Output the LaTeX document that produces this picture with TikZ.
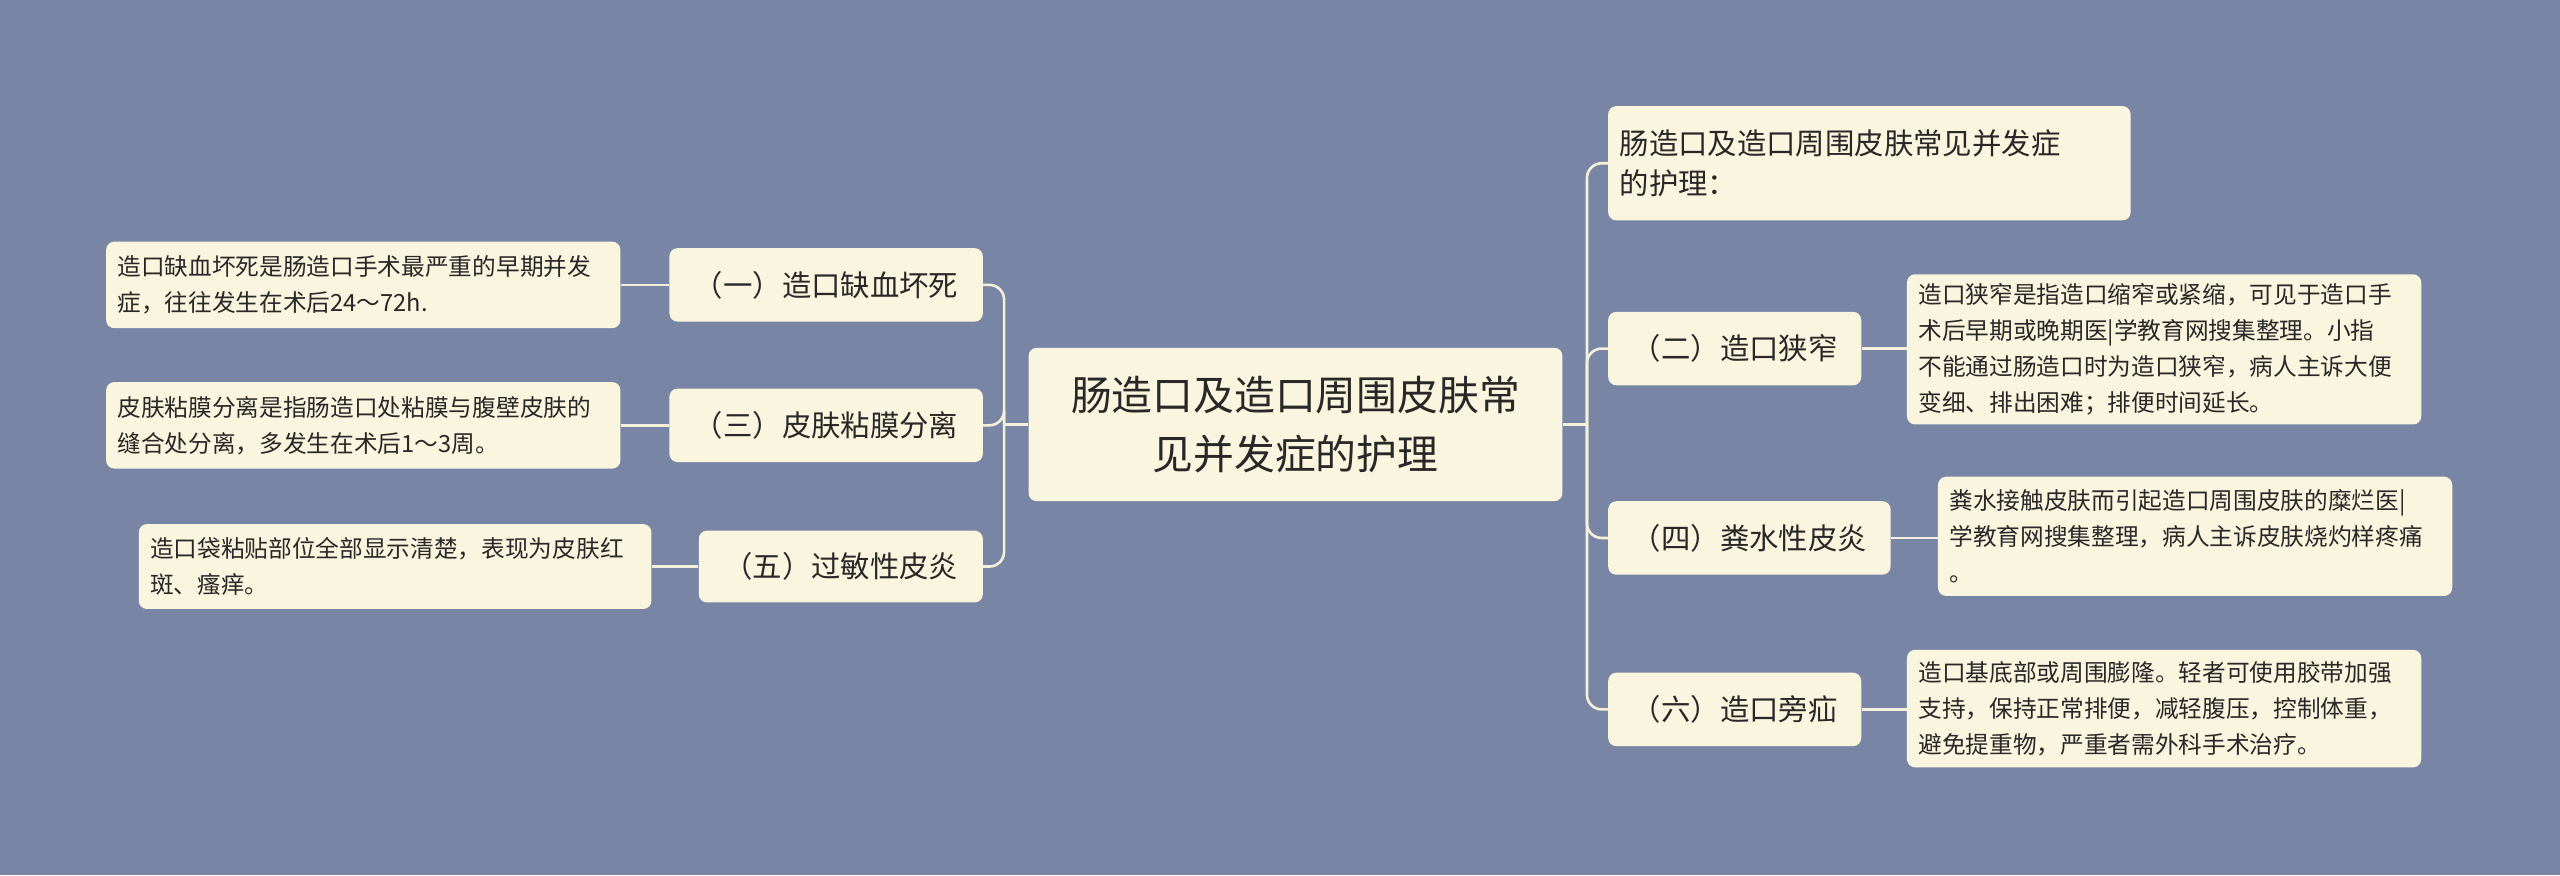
\documentclass[tikz,border=0pt]{standalone}
\usepackage{fontspec}
\setmainfont{Noto Sans CJK SC}
\begin{document}
\begin{tikzpicture}[x=1pt,y=-1pt,
  box/.style={draw=none,fill=boxc,rounded corners=5pt,inner sep=0pt,text=txt},
  leaf/.style={box,font=\fontsize{14.5}{22}\selectfont,align=left},
  mainn/.style={box,font=\fontsize{18}{24}\selectfont},
  conn/.style={draw=linec,line width=1.6pt,rounded corners=9pt}]
\definecolor{bg}{RGB}{120,133,165}
\definecolor{boxc}{RGB}{250,245,222}
\definecolor{linec}{RGB}{245,240,220}
\definecolor{txt}{RGB}{40,40,40}
\fill[bg] (0,0) rectangle (1568,536);
\useasboundingbox (0,0) rectangle (1568,536);
% center
\node[box,minimum width=327pt,minimum height=94pt,font=\fontsize{25}{36}\selectfont,align=center] (c) at (793.5,260) {肠造口及造口周围皮肤常\\见并发症的护理};
% left main
\node[mainn,minimum width=192pt,minimum height=45pt] (n1) at (506,174.5) {（一）造口缺血坏死};
\node[mainn,minimum width=192pt,minimum height=45pt] (n3) at (506,260.5) {（三）皮肤粘膜分离};
\node[mainn,minimum width=174pt,minimum height=44pt] (n5) at (515,347) {（五）过敏性皮炎};
% left leaves
\node[leaf,minimum width=315pt,minimum height=53pt,text width=301pt] (l1) at (222.5,174.5) {造口缺血坏死是肠造口手术最严重的早期并发\\症，往往发生在术后24～72h.};
\node[leaf,minimum width=315pt,minimum height=53pt,text width=301pt] (l3) at (222.5,260.5) {皮肤粘膜分离是指肠造口处粘膜与腹壁皮肤的\\缝合处分离，多发生在术后1～3周。};
\node[leaf,minimum width=314pt,minimum height=52pt,text width=300pt] (l5) at (242,347) {造口袋粘贴部位全部显示清楚，表现为皮肤红\\斑、瘙痒。};
% right main
\node[mainn,minimum width=320pt,minimum height=70pt,text width=306pt,align=left] (t) at (1145,100) {肠造口及造口周围皮肤常见并发症\\的护理：};
\node[mainn,minimum width=155pt,minimum height=45pt] (n2) at (1062.5,213.5) {（二）造口狭窄};
\node[mainn,minimum width=173pt,minimum height=45pt] (n4) at (1071.5,329.5) {（四）粪水性皮炎};
\node[mainn,minimum width=155pt,minimum height=45pt] (n6) at (1062.5,434.5) {（六）造口旁疝};
% right leaves
\node[leaf,minimum width=315pt,minimum height=92pt,text width=301pt] (r2) at (1325.5,214) {造口狭窄是指造口缩窄或紧缩，可见于造口手\\术后早期或晚期医|学教育网搜集整理。小指\\不能通过肠造口时为造口狭窄，病人主诉大便\\变细、排出困难；排便时间延长。};
\node[leaf,minimum width=315pt,minimum height=73pt,text width=301pt] (r4) at (1344.5,328.5) {粪水接触皮肤而引起造口周围皮肤的糜烂医|\\学教育网搜集整理，病人主诉皮肤烧灼样疼痛\\。};
\node[leaf,minimum width=315pt,minimum height=72pt,text width=301pt] (r6) at (1325.5,434) {造口基底部或周围膨隆。轻者可使用胶带加强\\支持，保持正常排便，减轻腹压，控制体重，\\避免提重物，严重者需外科手术治疗。};
% connectors
\coordinate (lj) at (615,260);
\coordinate (rj) at (972,260);
\draw[conn] (c.west) -- (lj);
\draw[conn] (c.east) -- (rj);
\foreach \n in {n1,n3,n5} \draw[conn] (lj) |- (\n.east);
\foreach \n in {t,n2,n4,n6} \draw[conn] (rj) |- (\n.west);
\draw[conn] (n1.west) -- (l1.east);
\draw[conn] (n3.west) -- (l3.east);
\draw[conn] (n5.west) -- (l5.east);
\draw[conn] (n2.east) -- (r2.west |- n2.east);
\draw[conn] (n4.east) -- (r4.west |- n4.east);
\draw[conn] (n6.east) -- (r6.west |- n6.east);
\end{tikzpicture}
\end{document}
